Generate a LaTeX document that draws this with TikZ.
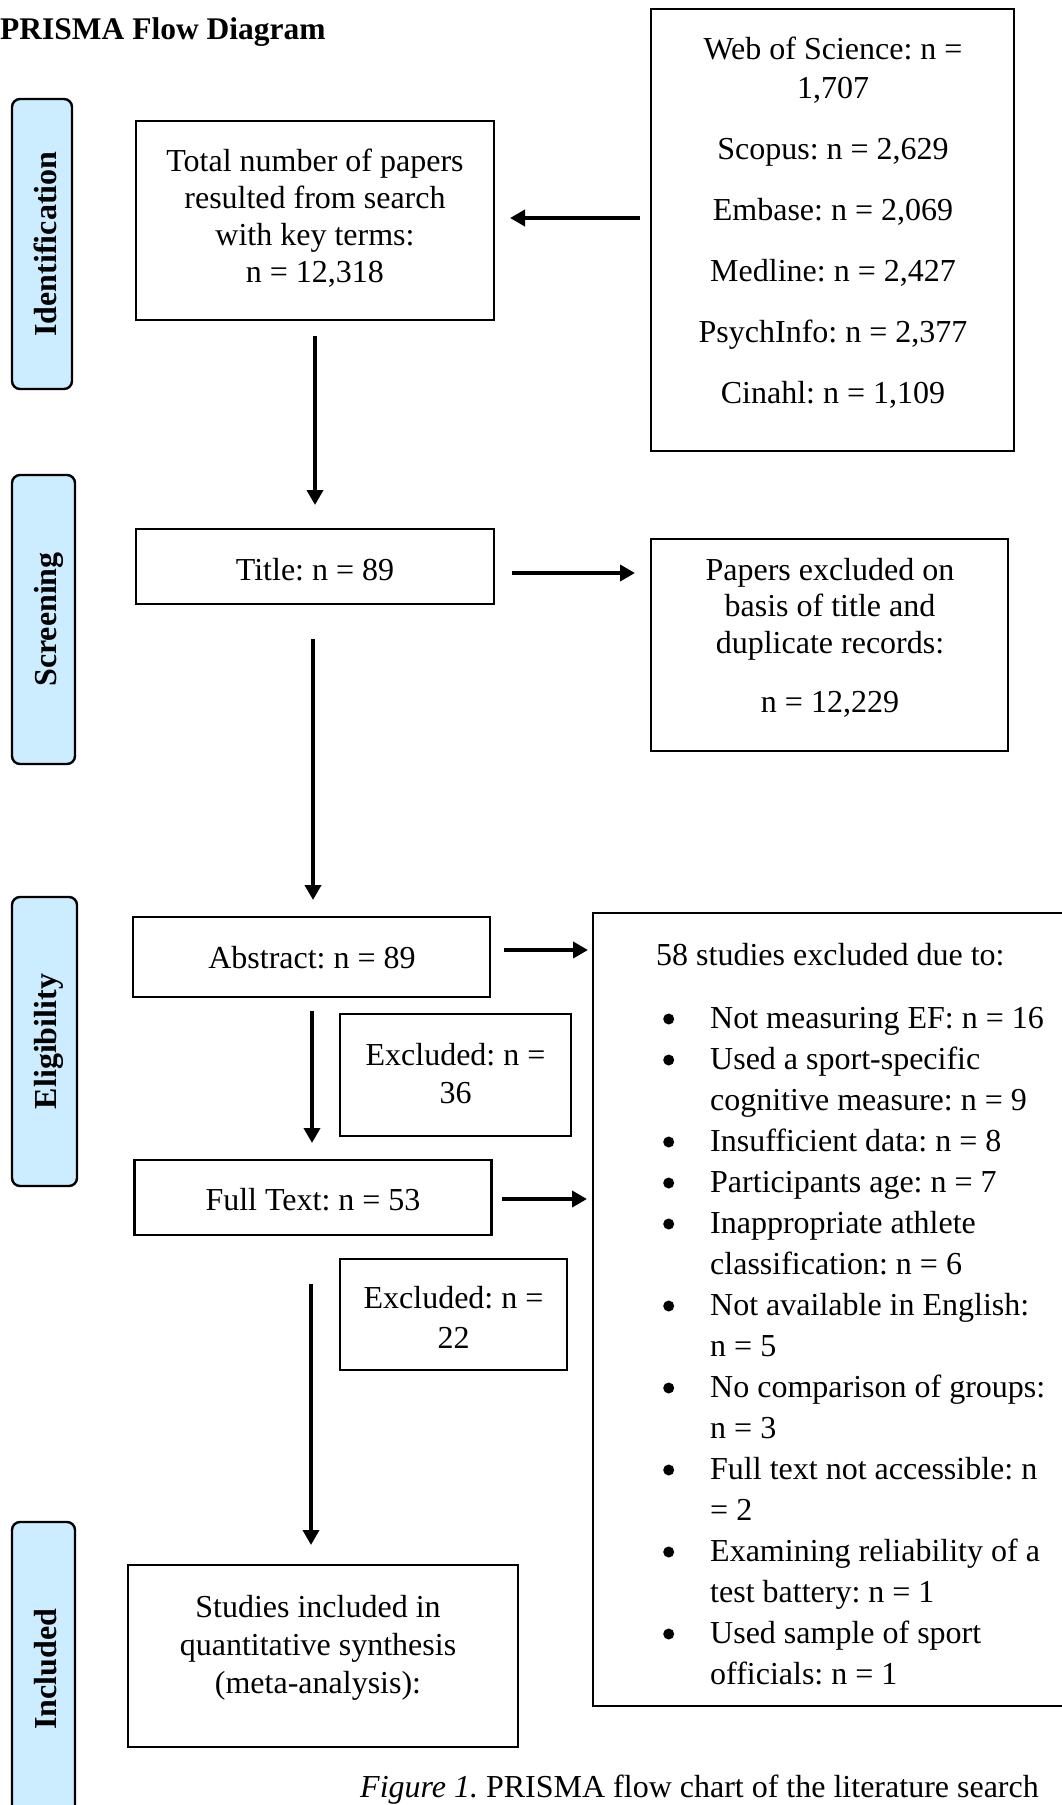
\documentclass[tikz,border=0pt]{standalone}
\usepackage{fontspec}
\setmainfont{Liberation Serif}
\usetikzlibrary{arrows.meta,calc}
\definecolor{tabblue}{RGB}{204,236,255}
\newcommand\mylines[3]{{\fontsize{32}{#1}\selectfont\begin{tabular}[t]{@{}#2@{}}#3\end{tabular}}}
\newcommand\bp{\hspace*{7pt}\tikz[baseline=0pt]\fill (6pt,9pt) circle[radius=5.5pt];}
\begin{document}
\frenchspacing
\begin{tikzpicture}[x=1pt,y=-1pt,
  box/.style={draw, line width=2.4pt, inner sep=0pt, outer sep=0pt},
  tab/.style={draw, line width=2.4pt, fill=tabblue, rounded corners=8pt, inner sep=0pt, outer sep=0pt},
  tablabel/.style={rotate=90, anchor=base, inner sep=0pt, font=\fontsize{32}{38}\selectfont\bfseries},
  txt/.style={inner sep=0pt, anchor=base},
  varr/.style={line width=3.8pt, -{Triangle[width=16pt,length=15pt]}},
  harr/.style={line width=4.8pt, -{Triangle[width=16pt,length=15pt]}}]
\useasboundingbox (0,0) rectangle (1062,1805);
\clip (0,0) rectangle (1062,1805);
\fill[white] (0,0) rectangle (1062,1805);

% header
\node[inner sep=0pt, anchor=base west, font=\fontsize{31.5}{36}\selectfont\bfseries] (hdr) at (0,39) {PRISMA Flow Diagram};

% phase tabs
\node[tab, minimum width=60pt, minimum height=290pt] (tabI) at (42,244) {};
\node[tablabel] (labI) at (56,244) {Identification};
\node[tab, minimum width=63pt, minimum height=289pt] (tabS) at (43.5,619.5) {};
\node[tablabel] (labS) at (56,619.5) {Screening};
\node[tab, minimum width=65pt, minimum height=289pt] (tabE) at (44.5,1041.5) {};
\node[tablabel] (labE) at (56,1041.5) {Eligibility};
\node[tab, minimum width=63pt, minimum height=294pt] (tabN) at (43.5,1669) {};
\node[tablabel] (labN) at (56,1669) {Included};

% boxes
\node[box, minimum width=358pt, minimum height=199pt] (total) at (315,220.5) {};
\node[box, minimum width=363pt, minimum height=442pt] (db) at (832.5,230) {};
\node[box, minimum width=358pt, minimum height=75pt] (title) at (315,566.5) {};
\node[box, minimum width=357pt, minimum height=212pt] (papers) at (829.5,645) {};
\node[box, minimum width=357pt, minimum height=80pt] (abstract) at (311.5,957) {};
\node[box, minimum width=487pt, minimum height=793pt] (excl) at (836.5,1309.5) {};
\node[box, minimum width=231pt, minimum height=122pt] (ex36) at (455.5,1075) {};
\node[box, minimum width=357pt, minimum height=75pt] (full) at (313,1197.5) {};
\node[box, minimum width=227pt, minimum height=111pt] (ex22) at (453.5,1314.5) {};
\node[box, minimum width=390pt, minimum height=182pt] (incl) at (323,1656) {};

% texts
\node[txt] (totalT) at (315,171) {\mylines{37.3}{c}{Total number of papers\\resulted from search\\with key terms:\\n = 12,318}};
\node[txt] (dbT) at (833,59) {\mylines{39}{c}{Web of Science: n =\\1,707\\[22pt]Scopus: n = 2,629\\[22pt]Embase: n = 2,069\\[22pt]Medline: n = 2,427\\[22pt]PsychInfo: n = 2,377\\[22pt]Cinahl: n = 1,109}};
\node[txt] (titleT) at (315,580) {\mylines{37}{c}{Title: n = 89}};
\node[txt] (papersT) at (830,580) {\mylines{36.5}{c}{Papers excluded on\\basis of title and\\duplicate records:\\[22.5pt]n = 12,229}};
\node[txt] (abstractT) at (312,968) {\mylines{37}{c}{Abstract: n = 89}};
\node[txt] (ex36T) at (455.5,1065) {\mylines{38}{c}{Excluded: n =\\36}};
\node[txt] (fullT) at (313,1210) {\mylines{37}{c}{Full Text: n = 53}};
\node[txt] (ex22T) at (453.5,1308) {\mylines{40}{c}{Excluded: n =\\22}};
\node[txt] (inclT) at (318,1617) {\mylines{38}{c}{Studies included in\\quantitative synthesis\\(meta-analysis):}};
\node[inner sep=0pt, anchor=base west] (exclT) at (656,965) {\mylines{41}{p{54pt}@{}l}{%
\multicolumn{2}{@{}l@{}}{58 studies excluded due to:}\\[22pt]
\bp & Not measuring EF: n = 16\\
\bp & Used a sport-specific\\
 & cognitive measure: n = 9\\
\bp & Insufficient data: n = 8\\
\bp & Participants age: n = 7\\
\bp & Inappropriate athlete\\
 & classification: n = 6\\
\bp & Not available in English:\\
 & n = 5\\
\bp & No comparison of groups:\\
 & n = 3\\
\bp & Full text not accessible: n\\
 & = 2\\
\bp & Examining reliability of a\\
 & test battery: n = 1\\
\bp & Used sample of sport\\
 & officials: n = 1}};

% caption
\node[inner sep=0pt, anchor=base west, font=\fontsize{32}{38}\selectfont] (cap) at (360,1797) {\textit{Figure 1.} PRISMA flow chart of the literature search};

% connectors
\draw[harr] ($(db.west)+(-11,-12)$) -- ($(total.east)+(16,-2.5)$);
\draw[varr] ($(total.south)+(0,16)$) -- ($(title.north)+(0,-24)$);
\draw[harr] ($(title.east)+(18,6.5)$) -- ($(papers.west)+(-16,-72)$);
\draw[varr] ($(title.south)+(-2,35)$) -- ($(abstract.north)+(1.5,-17)$);
\draw[harr] ($(abstract.east)+(14,-7)$) -- ($(excl.west)+(-5,-359.5)$);
\draw[varr] ($(abstract.south)+(0.5,14)$) -- ($(full.north)+(-1,-17)$);
\draw[harr] ($(full.east)+(10.5,1.5)$) -- ($(excl.west)+(-6,-110.5)$);
\draw[varr] ($(full.south)+(-2,49)$) -- ($(incl.north)+(-12,-20)$);
\end{tikzpicture}
\end{document}
